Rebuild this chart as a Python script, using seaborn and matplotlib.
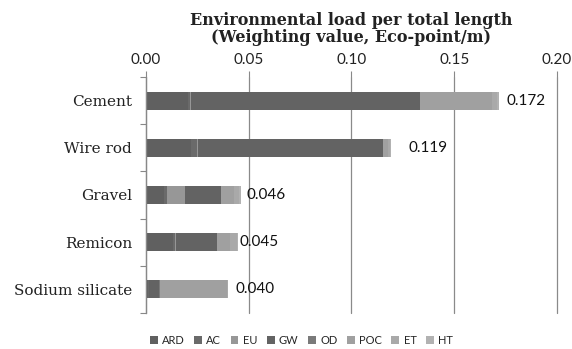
import numpy as np
import pandas as pd
import matplotlib
matplotlib.use("Agg")
import matplotlib.pyplot as plt
import seaborn as sns

# Materials and impact categories (Eco-point/m)
materials = ["Cement", "Wire rod", "Gravel", "Remicon", "Sodium silicate"]
categories = ["ARD", "AC", "EU", "GW", "OD", "POC", "ET", "HT"]

ARD = [0.0205, 0.0218, 0.0090, 0.0130, 0.0010]
AC = [0.0010, 0.0032, 0.0012, 0.0010, 0.0003]
EU = [0.0005, 0.0002, 0.0086, 0.0005, 0.0002]
GW = [0.1113, 0.0900, 0.0175, 0.0200, 0.0050]
OD = [0.0002, 0.0001, 0.0002, 0.0002, 0.0001]
POC = [0.0350, 0.0025, 0.0065, 0.0060, 0.0330]
ET = [0.0025, 0.0008, 0.0025, 0.0038, 0.0003]
HT = [0.0010, 0.0004, 0.0005, 0.0005, 0.0001]

totals = [0.172, 0.119, 0.046, 0.045, 0.040]
xticks = [0.00, 0.05, 0.10, 0.15, 0.20]

colors = ["#606060", "#6a6a6a", "#979797", "#636363",
          "#7a7a7a", "#a0a0a0", "#a9a9a9", "#b2b2b2"]
# horizontal gap between bar end and its total label (points)
label_pad = [5, 13, 4, 1, 5]

df = pd.DataFrame({"ARD": ARD, "AC": AC, "EU": EU, "GW": GW,
                   "OD": OD, "POC": POC, "ET": ET, "HT": HT},
                  index=materials)
cum = df[categories].cumsum(axis=1)

sns.set_theme(style="white")
plt.rcParams["font.family"] = ["Lato", "DejaVu Sans"]

fig = plt.figure(figsize=(5.72, 3.49), dpi=100)
ax = fig.add_axes([0.2552, 0.1032, 0.7186, 0.6762])

# stacked bars: draw cumulative layers from the outermost inward
for cat, col in reversed(list(zip(categories, colors))):
    layer = pd.DataFrame({"material": materials, "value": cum[cat].values})
    sns.barplot(data=layer, x="value", y="material", orient="h",
                color=col, width=0.38, saturation=1, ax=ax,
                edgecolor="none", linewidth=0, label=cat)

ax.set_xlim(0, 0.20)
ax.set_xticks(xticks)
ax.set_xticklabels([f"{t:.2f}" for t in xticks], fontsize=11, color="#222222")
ax.xaxis.tick_top()
ax.xaxis.set_label_position("top")
ax.tick_params(axis="x", which="major", length=4, width=0.8, color="#888888",
               pad=3, top=True, bottom=False)
ax.grid(axis="x", color="#8a8a8a", linewidth=0.9)
for gl in ax.get_xgridlines():
    gl.set_clip_on(False)
ax.set_axisbelow(True)
ax.set_xlabel("Environmental load per total length\n(Weighting value, Eco-point/m)",
              fontsize=11.5, fontweight="bold", family="DejaVu Serif",
              labelpad=8, linespacing=1.05, color="#222222")
ax.set_ylabel("")

ax.set_yticks(np.arange(len(materials)))
ax.set_yticklabels(materials, family="DejaVu Serif", fontsize=11, color="#222222")
ax.tick_params(axis="y", which="major", length=0, pad=10)
ax.set_yticks(np.arange(len(materials) + 1) - 0.5, minor=True)
ax.tick_params(axis="y", which="minor", length=4, width=0.8, color="#888888", left=True)
ax.set_ylim(len(materials) - 0.5, -0.5)

for side in ["top", "right", "bottom"]:
    ax.spines[side].set_visible(False)
ax.spines["left"].set_color("#888888")
ax.spines["left"].set_linewidth(0.9)

for i, (tot, pad) in enumerate(zip(totals, label_pad)):
    ax.annotate(f"{tot:.3f}", xy=(cum["HT"].iloc[i], i), xytext=(pad, 0),
                textcoords="offset points", va="center", ha="left",
                fontsize=11, color="#111111")

handles, labels = ax.get_legend_handles_labels()
order = [labels.index(c) for c in categories]
leg = ax.legend([handles[k] for k in order], [labels[k] for k in order],
                loc="center", bbox_to_anchor=(0.527, 0.024),
                bbox_transform=fig.transFigure, ncol=8, frameon=False,
                fontsize=8, handlelength=0.7, handleheight=0.7,
                handletextpad=0.4, columnspacing=0.85)

fig.savefig("out.png", dpi=100)
